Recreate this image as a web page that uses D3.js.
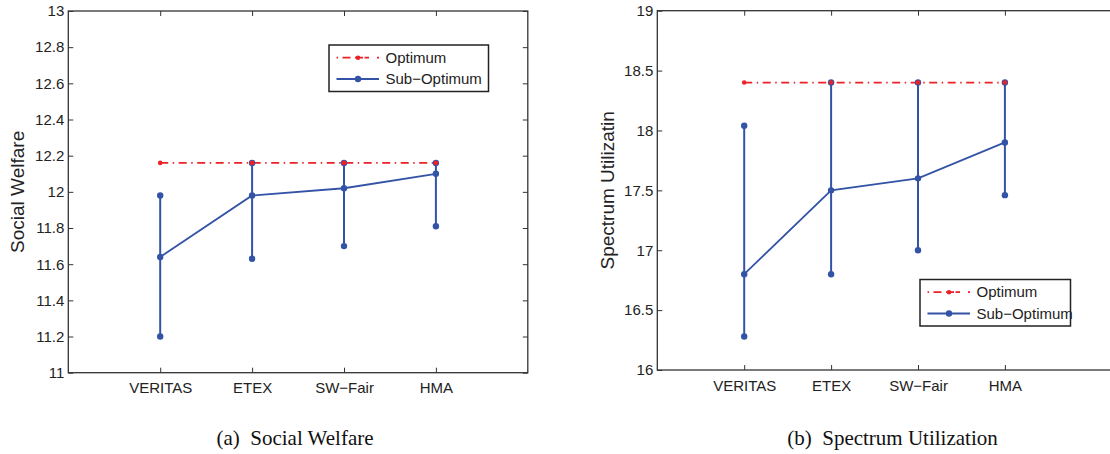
<!DOCTYPE html>
<html>
<head>
<meta charset="utf-8">
<script src="https://cdn.jsdelivr.net/npm/d3@7"></script>
<style>
  body { margin: 0; background: #fff; }
  svg { display: block; }
</style>
</head>
<body>
<div id="wrapper"></div>
<script>
const categories = ["VERITAS", "ETEX", "SW\u2212Fair", "HMA"]

const welfareOptimum = [12.16, 12.16, 12.16, 12.16]
const welfareMean = [11.64, 11.98, 12.02, 12.10]
const welfareLow = [11.20, 11.63, 11.70, 11.81]
const welfareHigh = [11.98, 12.16, 12.16, 12.16]
const welfareTicks = [11, 11.2, 11.4, 11.6, 11.8, 12, 12.2, 12.4, 12.6, 12.8, 13]

const spectrumOptimum = [18.4, 18.4, 18.4, 18.4]
const spectrumMean = [16.8, 17.5, 17.6, 17.9]
const spectrumLow = [16.28, 16.8, 17.0, 17.46]
const spectrumHigh = [18.04, 18.4, 18.4, 18.4]
const spectrumTicks = [16, 16.5, 17, 17.5, 18, 18.5, 19]

const legendLabels = ["Optimum", "Sub\u2212Optimum"]

const blue = "#3353a6"
const red = "#ec2127"
const axisColor = "#333"

const svg = d3.select("#wrapper")
    .append("svg")
    .attr("width", 1110)
    .attr("height", 454)

svg.append("rect")
    .attr("width", 1110)
    .attr("height", 454)
    .attr("fill", "#fff")

function drawPanel(p) {
    const xScale = d3.scaleLinear()
        .domain([0, p.xMax])
        .range([p.left, p.left + p.xMax * p.step])
    const yScale = d3.scaleLinear()
        .domain(d3.extent(p.ticks))
        .range([p.bottom, p.top])

    const g = svg.append("g")
    const right = xScale(p.xMax)
    const idx = categories.map((d, i) => i + 1)

    // axes box
    g.append("rect")
        .attr("x", p.left)
        .attr("y", p.top)
        .attr("width", right - p.left)
        .attr("height", p.bottom - p.top)
        .attr("fill", "none")
        .attr("stroke", axisColor)
        .attr("stroke-width", 1.3)

    const fmt = d => String(+d.toFixed(1))

    const yAxis = g.append("g")
        .attr("transform", `translate(${p.left},0)`)
        .call(d3.axisLeft(yScale).tickValues(p.ticks).tickFormat(fmt).tickSize(-5).tickPadding(4))
    const yAxisR = g.append("g")
        .attr("transform", `translate(${right},0)`)
        .call(d3.axisRight(yScale).tickValues(p.ticks).tickFormat("").tickSize(-5))
    const xAxis = g.append("g")
        .attr("transform", `translate(0,${p.bottom})`)
        .call(d3.axisBottom(xScale).tickValues(idx).tickFormat((d, i) => categories[i]).tickSize(-5).tickPadding(10))
    const xAxisT = g.append("g")
        .attr("transform", `translate(0,${p.top})`)
        .call(d3.axisTop(xScale).tickValues(idx).tickFormat("").tickSize(-5))

    ;[yAxis, yAxisR, xAxis, xAxisT].forEach(a => {
        a.select(".domain").remove()
        a.selectAll(".tick line").attr("stroke", axisColor).attr("stroke-width", 1)
        a.selectAll("text")
            .attr("fill", "#222")
            .style("font-family", "'Liberation Sans', Arial, sans-serif")
            .style("font-size", "15px")
    })

    // axis label
    g.append("text")
        .attr("transform", `translate(${p.labelX},${(p.top + p.bottom) / 2}) rotate(-90)`)
        .attr("text-anchor", "middle")
        .attr("fill", "#222")
        .style("font-family", "'Liberation Sans', Arial, sans-serif")
        .style("font-size", "19px")
        .text(p.yLabel)

    // error bars
    const bars = g.append("g")
    idx.forEach((x, i) => {
        bars.append("line")
            .attr("x1", xScale(x)).attr("x2", xScale(x))
            .attr("y1", yScale(p.low[i])).attr("y2", yScale(p.high[i]))
            .attr("stroke", blue)
            .attr("stroke-width", 2)
    })

    // optimum line
    const line = d3.line()
        .x((d, i) => xScale(i + 1))
        .y(d => yScale(d))
    g.append("path")
        .attr("d", line(p.optimum))
        .attr("fill", "none")
        .attr("stroke", red)
        .attr("stroke-width", 1.8)
        .attr("stroke-dasharray", "8,4.5,1.5,4.5")

    // sub-optimum line
    g.append("path")
        .attr("d", line(p.mean))
        .attr("fill", "none")
        .attr("stroke", blue)
        .attr("stroke-width", 1.8)

    const dots = []
    idx.forEach((x, i) => {
        dots.push([x, p.low[i]], [x, p.high[i]], [x, p.mean[i]])
    })
    g.selectAll(".bdot").data(dots).join("circle")
        .attr("class", "bdot")
        .attr("cx", d => xScale(d[0]))
        .attr("cy", d => yScale(d[1]))
        .attr("r", 3.2)
        .attr("fill", blue)

    g.selectAll(".rdot").data(p.optimum).join("circle")
        .attr("class", "rdot")
        .attr("cx", (d, i) => xScale(i + 1))
        .attr("cy", d => yScale(d))
        .attr("r", 2.3)
        .attr("fill", red)

    // legend
    const lg = g.append("g").attr("transform", `translate(${p.legend.x},${p.legend.y})`)
    lg.append("rect")
        .attr("width", p.legend.w)
        .attr("height", 46.5)
        .attr("fill", "#fff")
        .attr("stroke", "#222")
        .attr("stroke-width", 1.5)
    legendLabels.forEach((label, i) => {
        const cy = 12.7 + i * 21.3
        const row = lg.append("g").attr("transform", `translate(0,${cy})`)
        const line = row.append("line")
            .attr("x1", 7.5).attr("x2", 50)
            .attr("stroke", i === 0 ? red : blue)
            .attr("stroke-width", 1.8)
        if (i === 0) line.attr("stroke-dasharray", "1.5,4.5,8,4.5,8")
        row.append("circle")
            .attr("cx", 29)
            .attr("r", i === 0 ? 2.3 : 3.2)
            .attr("fill", i === 0 ? red : blue)
        row.append("text")
            .attr("x", 56.5)
            .attr("dy", "0.35em")
            .attr("fill", "#222")
            .style("font-family", "'Liberation Sans', Arial, sans-serif")
            .style("font-size", "15px")
            .text(label)
    })

    // caption
    svg.append("text")
        .attr("x", p.captionX)
        .attr("y", 445)
        .attr("text-anchor", "middle")
        .attr("fill", "#111")
        .style("font-family", "'Liberation Serif', 'Times New Roman', serif")
        .style("font-size", "21px")
        .style("white-space", "pre")
        .text(p.caption)
}

drawPanel({
    left: 68.3, top: 11, bottom: 372.7, step: 91.9, xMax: 5,
    ticks: welfareTicks,
    optimum: welfareOptimum, mean: welfareMean, low: welfareLow, high: welfareHigh,
    yLabel: "Social Welfare", labelX: 23.5,
    legend: { x: 329, y: 45, w: 159.5 },
    caption: "(a)  Social Welfare", captionX: 295
})

drawPanel({
    left: 657.3, top: 10.7, bottom: 370, step: 86.9, xMax: 5.5,
    ticks: spectrumTicks,
    optimum: spectrumOptimum, mean: spectrumMean, low: spectrumLow, high: spectrumHigh,
    yLabel: "Spectrum Utilizatin", labelX: 614,
    legend: { x: 920, y: 279.5, w: 150.5 },
    caption: "(b)  Spectrum Utilization", captionX: 892.5
})
</script>
</body>
</html>
